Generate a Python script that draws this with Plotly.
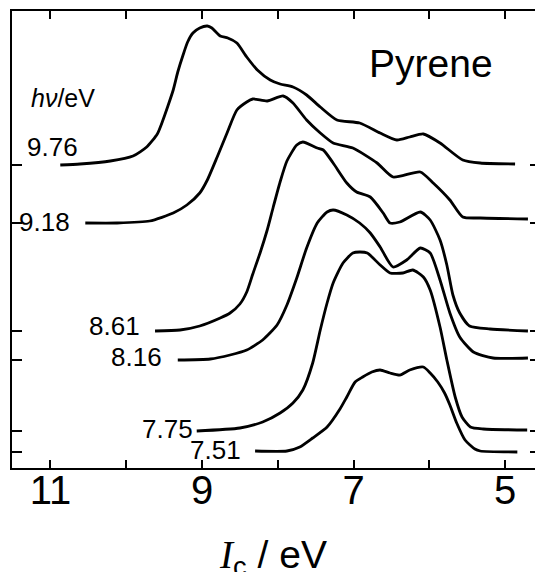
import plotly.graph_objects as go

# photon energies (labels) and vertical offsets of each spectrum baseline
photon_energies = ["9.76", "9.18", "8.61", "8.16", "7.75", "7.51"]
offsets = [303, 245, 137, 108, 37, 16]

# ionisation energy (eV) and signal for each spectrum
ie_976 = [10.87, 10.61, 10.21, 9.91, 9.73, 9.59, 9.52, 9.45, 9.38, 9.32, 9.25, 9.19, 9.12, 9.03, 8.93,
          8.87, 8.76, 8.66, 8.54, 8.41, 8.27, 8.10, 7.97, 7.80, 7.62, 7.44, 7.22, 6.92, 6.65, 6.43,
          6.26, 6.08, 5.86, 5.56, 5.33, 4.87]
sig_976 = [0, 1, 4, 9, 18, 31, 44, 59, 75, 93, 110, 123, 132, 137, 139,
           137, 129, 127, 122, 108, 95, 85, 81, 78, 70, 58, 45, 42, 32, 25,
           28, 31, 22, 5, 2, 1]

ie_918 = [10.54, 10.12, 9.69, 9.38, 9.20, 9.03, 8.93, 8.80, 8.67, 8.54, 8.41, 8.33, 8.14, 7.93, 7.80,
          7.62, 7.44, 7.27, 7.01, 6.69, 6.48, 6.12, 5.95, 5.73, 5.56, 5.33, 4.70]
sig_918 = [0, 0, 2, 10, 18, 30, 43, 66, 90, 113, 121, 124, 122, 127, 120,
           103, 90, 80, 75, 60, 46, 51, 40, 23, 6, 5, 4]

ie_861 = [9.62, 9.29, 9.03, 8.76, 8.63, 8.50, 8.41, 8.33, 8.23, 8.14, 8.06, 7.97, 7.88, 7.75, 7.67,
          7.48, 7.40, 7.27, 7.09, 6.96, 6.78, 6.61, 6.52, 6.39, 6.12, 5.99, 5.86, 5.77, 5.69, 5.60,
          5.47, 5.20, 4.70]
sig_861 = [0, 1, 5, 13, 18, 27, 39, 57, 79, 101, 124, 149, 170, 186, 189,
           183, 181, 168, 148, 139, 134, 118, 108, 109, 119, 111, 91, 66, 36, 18,
           5, 2, 0]

ie_816 = [9.32, 8.89, 8.63, 8.41, 8.20, 8.01, 7.88, 7.75, 7.62, 7.48, 7.35, 7.27, 7.09, 6.92, 6.78,
          6.65, 6.48, 6.30, 6.12, 5.99, 5.86, 5.73, 5.60, 5.42, 5.16, 4.70]
sig_816 = [0, 1, 5, 10, 20, 35, 55, 82, 112, 137, 148, 150, 145, 137, 127,
           113, 93, 100, 112, 107, 80, 47, 23, 8, 2, 2]

ie_775 = [9.07, 8.50, 8.20, 7.97, 7.80, 7.67, 7.54, 7.44, 7.35, 7.27, 7.14, 7.01, 6.92, 6.82, 6.65,
          6.52, 6.35, 6.22, 6.08, 5.99, 5.86, 5.77, 5.66, 5.57, 5.46, 5.29, 4.71]
sig_775 = [0, 3, 9, 18, 28, 41, 68, 101, 128, 148, 168, 178, 179, 178, 166,
           158, 158, 161, 154, 141, 104, 71, 34, 14, 4, 2, 1]

ie_751 = [8.30, 7.88, 7.71, 7.54, 7.35, 7.18, 7.09, 6.98, 6.88, 6.76, 6.65, 6.52, 6.39, 6.26, 6.08,
          5.99, 5.89, 5.80, 5.73, 5.64, 5.53, 5.40, 5.33, 4.84]
sig_751 = [1, 1, 5, 14, 25, 43, 55, 70, 75, 80, 82, 79, 77, 82, 85,
           79, 70, 59, 47, 29, 12, 3, 1, 0]

x_major_ticks = [11, 9, 7, 5]
x_minor_ticks = [10, 8, 6]

spectra = [(ie_976, sig_976), (ie_918, sig_918), (ie_861, sig_861),
           (ie_816, sig_816), (ie_775, sig_775), (ie_751, sig_751)]

fig = go.Figure()
for i, (name, (xs, ss), off) in enumerate(zip(photon_energies, spectra, offsets)):
    fig.add_trace(go.Scatter(
        x=xs, y=[off + s for s in ss], mode="lines", name=name,
        yaxis="y2" if i == len(spectra) - 1 else "y",
        line=dict(color="black", width=2.8, shape="spline", smoothing=0.6),
        showlegend=False, hoverinfo="skip"))

FONT = "Liberation Sans"

# label positions (x in eV, y in plot units), right-aligned
label_x = [10.61, 10.715, 9.79, 9.50, 9.09, 8.459]
label_y = [321, 246, 142, 111, 39, 18]
annotations = []
for txt, lx, ly in zip(photon_energies, label_x, label_y):
    annotations.append(dict(x=lx, y=ly, xref="x", yref="y", text=txt, showarrow=False,
                            xanchor="right", yanchor="middle",
                            font=dict(family=FONT, size=26, color="black")))
annotations.append(dict(x=10.834, y=370, xref="x", yref="y", text="<i>hν</i>/eV", showarrow=False,
                        xanchor="center", yanchor="middle",
                        font=dict(family=FONT, size=25, color="black")))
annotations.append(dict(x=5.979, y=405, xref="x", yref="y", text="Pyrene", showarrow=False,
                        xanchor="center", yanchor="middle",
                        font=dict(family=FONT, size=39, color="black")))

fig.update_layout(
    width=535, height=590,
    margin=dict(l=12, r=0, t=11, b=122),
    paper_bgcolor="white", plot_bgcolor="white",
    showlegend=False,
    annotations=annotations,
    xaxis=dict(
        range=[11.507, 4.607], tickvals=x_major_ticks,
        ticks="inside", ticklen=8, tickwidth=2, tickcolor="black",
        minor=dict(tickvals=x_minor_ticks, ticks="inside", ticklen=8, tickwidth=2,
                   tickcolor="black", showgrid=False),
        showline=True, linewidth=2, linecolor="black", mirror="ticks",
        showgrid=False, zeroline=False, automargin=False,
        ticklabelstandoff=-14,
        tickfont=dict(family=FONT, size=40, color="black"),
        title=dict(text='<span style="font-family:Liberation Serif"><i>I</i></span><sub>c</sub> / eV',
                   font=dict(family=FONT, size=39, color="black"), standoff=30),
    ),
    yaxis=dict(
        range=[0, 457], tickvals=offsets, ticks="inside", ticklen=10, tickwidth=2,
        tickcolor="black", showticklabels=False, showline=True, linewidth=2,
        linecolor="black", showgrid=False, zeroline=False, automargin=False,
    ),
    yaxis2=dict(
        range=[0, 457], overlaying="y", side="right", tickvals=offsets, ticks="inside",
        ticklen=5, tickwidth=2, tickcolor="black", showticklabels=False, showline=False,
        showgrid=False, zeroline=False, automargin=False,
    ),
)

fig.write_html("out.html", config={"displayModeBar": False},
               post_script="document.body.style.margin='0';document.body.style.overflow='hidden';")
